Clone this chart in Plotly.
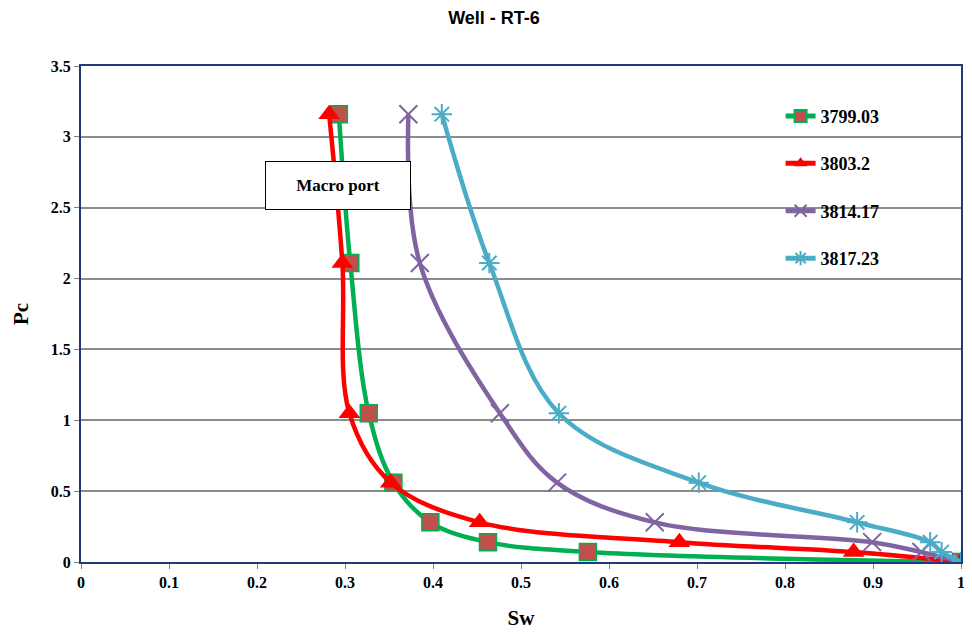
import plotly.graph_objects as go

# capillary pressure steps (same for every sample)
pc = [3.16, 2.11, 1.05, 0.56, 0.28, 0.14, 0.07, 0.0]

sw_3799 = [0.293, 0.306, 0.327, 0.355, 0.397, 0.4625, 0.576, 1.0]
sw_3803 = [0.282, 0.297, 0.305, 0.352, 0.453, 0.68, 0.878, 1.0]
sw_3814 = [0.372, 0.385, 0.476, 0.541, 0.652, 0.899, 0.955, 1.0]
sw_3817 = [0.41, 0.464, 0.543, 0.702, 0.882, 0.965, 0.978, 1.0]

names = ["3799.03", "3803.2", "3814.17", "3817.23"]
serif = "Liberation Serif"

fig = go.Figure()

fig.add_trace(go.Scatter(x=sw_3799, y=pc, name=names[0], mode="lines+markers",
                         legendgroup="a",
                         line=dict(color="#00B050", width=4.5, shape="spline"),
                         marker=dict(symbol="square", size=17, color="#C0504D",
                                     line=dict(color="#00B050", width=1.5))))
fig.add_trace(go.Scatter(x=sw_3803, y=pc, name=names[1], mode="lines+markers",
                         legendgroup="b",
                         line=dict(color="#FF0000", width=4.5, shape="spline"),
                         marker=dict(symbol="triangle-up", size=19, color="#FF0000")))
fig.add_trace(go.Scatter(x=sw_3814, y=pc, name=names[2], mode="lines+markers",
                         legendgroup="c",
                         line=dict(color="#8064A2", width=4.5, shape="spline"),
                         marker=dict(symbol="x-thin-open", size=18,
                                     line=dict(color="#8064A2", width=2))))
fig.add_trace(go.Scatter(x=sw_3817, y=pc, name=names[3], mode="lines+markers",
                         legendgroup="d",
                         line=dict(color="#4BACC6", width=4.5, shape="spline"),
                         marker=dict(symbol="asterisk-open", size=17,
                                     line=dict(color="#4BACC6", width=2))))

fig.add_annotation(x=0.292, y=2.655, xref="x", yref="y", text="<b>Macro port</b>",
                   showarrow=False, font=dict(family=serif, size=17, color="black"),
                   width=138, height=41, bgcolor="white", bordercolor="black",
                   borderwidth=1, borderpad=3)

fig.update_xaxes(range=[0, 1], dtick=0.1, tick0=0, showgrid=False, zeroline=False,
                 showline=True, linecolor="#1F3A7A", linewidth=2, mirror=True,
                 ticks="outside", ticklen=5, tickcolor="#808080",
                 tickfont=dict(family=serif, size=16, color="black", weight="bold"),
                 title=dict(text="<b>Sw</b>", font=dict(family=serif, size=21, color="black"),
                            standoff=20))
fig.update_yaxes(range=[0, 3.5], dtick=0.5, tick0=0, showgrid=True, gridcolor="#8C8C8C",
                 gridwidth=1.5, zeroline=False,
                 showline=True, linecolor="#1F3A7A", linewidth=2, mirror=True,
                 ticks="outside", ticklen=5, tickcolor="#808080",
                 tickfont=dict(family=serif, size=16, color="black", weight="bold"),
                 title=dict(text="<b>Pc</b>", font=dict(family=serif, size=21, color="black"),
                            standoff=16))

fig.update_layout(
    width=972, height=634,
    title=dict(text="<b>Well - RT-6</b>", x=0.5, xanchor="center", y=0.984,
               yanchor="middle",
               font=dict(family="Liberation Sans", size=18, color="black")),
    margin=dict(l=68, r=19, t=58, b=80),
    plot_bgcolor="white", paper_bgcolor="white",
    legend=dict(x=0.795, y=0.936, xanchor="left", yanchor="top",
                bgcolor="rgba(0,0,0,0)", tracegroupgap=21, itemsizing="constant",
                font=dict(family=serif, size=18, color="black", weight="bold")),
)

fig.write_html("out.html")
